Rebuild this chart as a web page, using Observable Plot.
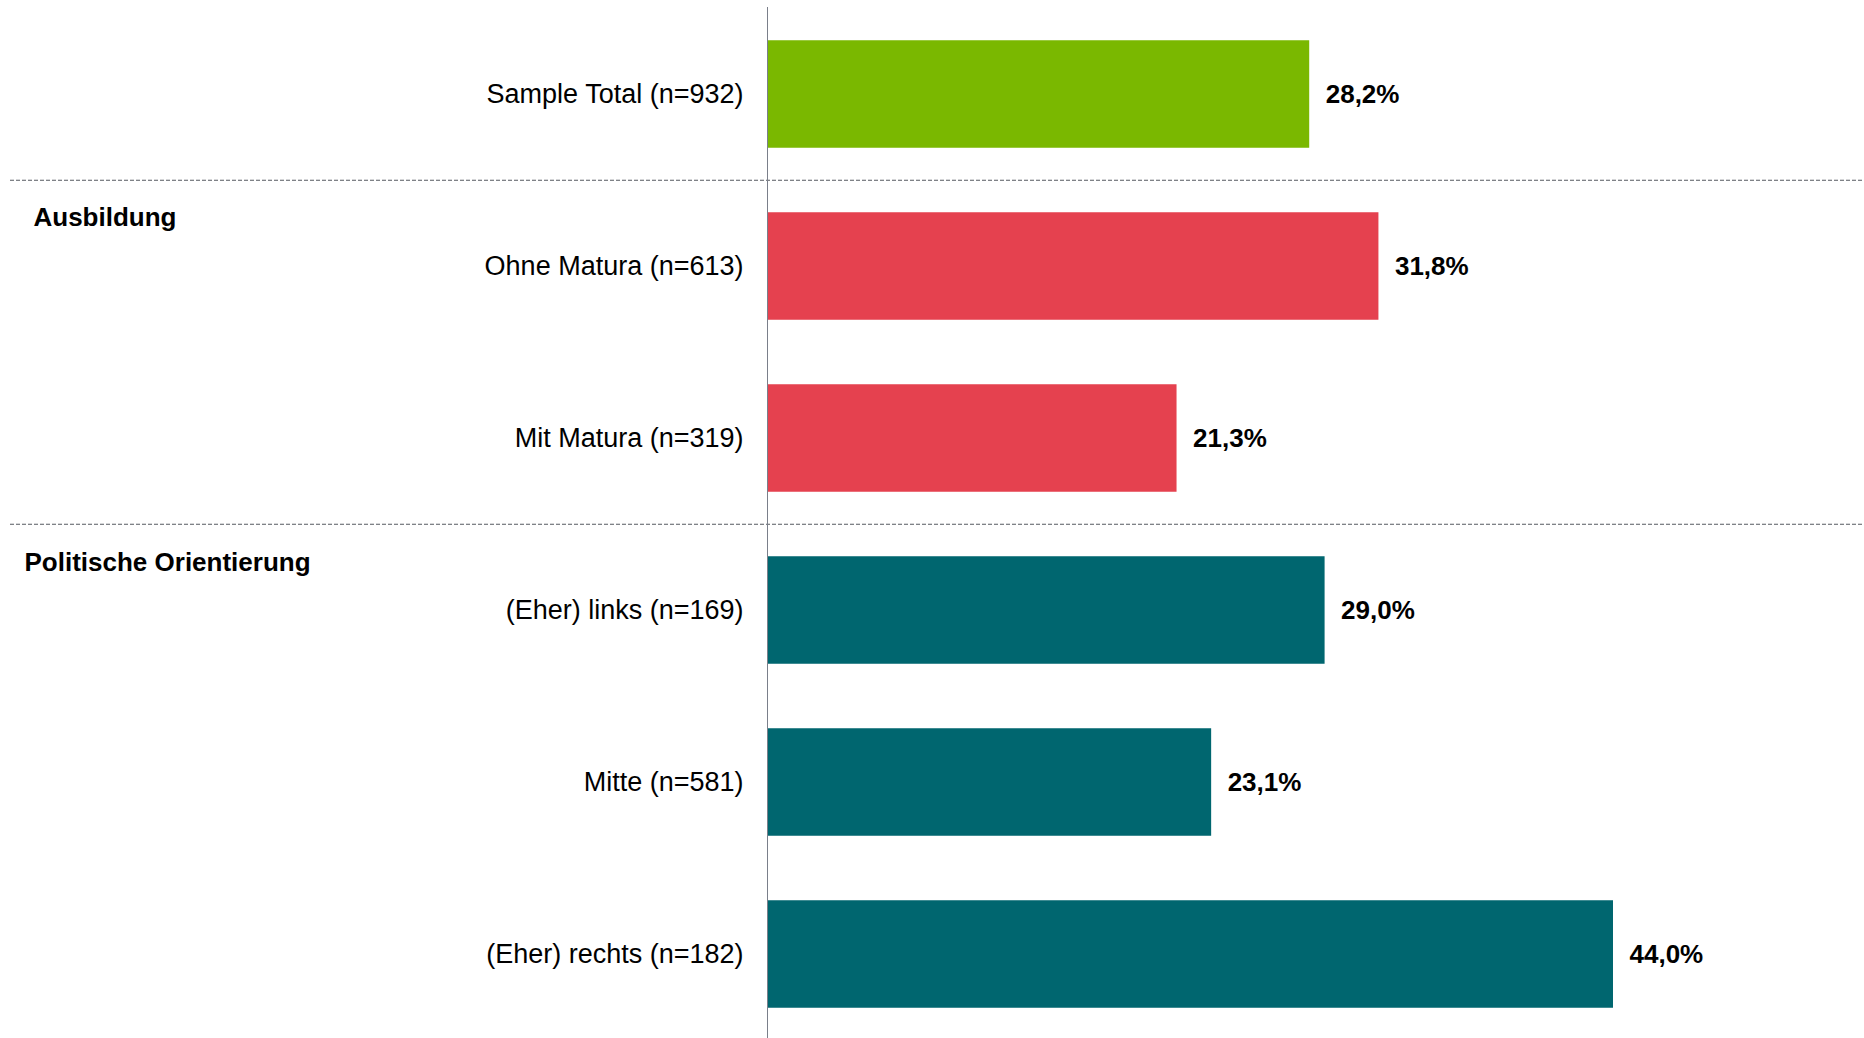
<!DOCTYPE html>
<html>
<head>
<meta charset="utf-8">
<script src="https://cdn.jsdelivr.net/npm/d3@7"></script>
<script src="https://cdn.jsdelivr.net/npm/@observablehq/plot@0.6"></script>
<style>
  html, body { margin: 0; padding: 0; background: #fff; }
  #chart svg { display: block; }
</style>
</head>
<body>
<div id="chart"></div>
<script>
const categories = [
  "Sample Total (n=932)",
  "Ohne Matura (n=613)",
  "Mit Matura (n=319)",
  "(Eher) links (n=169)",
  "Mitte (n=581)",
  "(Eher) rechts (n=182)"
];
const values = [28.2, 31.8, 21.3, 29.0, 23.1, 44.0];
const groups = ["Total", "Ausbildung", "Ausbildung", "Politik", "Politik", "Politik"];
const groupColors = { Total: "#7AB800", Ausbildung: "#E5414F", Politik: "#00666F" };

const headers = ["Ausbildung", "Politische Orientierung"];
const headerBefore = ["Ohne Matura (n=613)", "(Eher) links (n=169)"];
const separatorsBefore = ["Ohne Matura (n=613)", "(Eher) links (n=169)"];

const data = categories.map((c, i) => ({ cat: c, value: values[i], group: groups[i] }));
const headerData = headers.map((h, i) => ({ label: h, cat: headerBefore[i] }));
const fmt = v => v.toFixed(1).replace(".", ",") + "%";

const font = "'Liberation Sans', Arial, sans-serif";
const step = 172.5;

const chart = Plot.plot({
  width: 1864,
  height: 1038,
  marginLeft: 10,
  marginRight: 0,
  marginTop: 7,
  marginBottom: 0,
  style: { fontFamily: font, fontSize: "26px", background: "#fff", color: "#000" },
  x: { domain: [0, 44], range: [767, 1613], axis: null },
  y: { domain: categories, range: [6.75, 6.75 + step * categories.length], padding: 0, axis: null },
  marks: [
    Plot.barX(data, {
      y: "cat", x: "value",
      fill: d => groupColors[d.group],
      insetTop: 32.25, insetBottom: 32.25
    }),
    Plot.ruleY(separatorsBefore, {
      y: d => d, dy: -step / 2,
      stroke: "#555a60", strokeWidth: 1, strokeDasharray: "4,2"
    }),
    Plot.ruleX([0], { stroke: "#7a7f8a", strokeWidth: 1 }),
    Plot.text(data, {
      y: "cat", x: 0, text: "cat",
      textAnchor: "end", dx: -24,
      fill: "#000", fontSize: 27, fontFamily: font
    }),
    Plot.text(data, {
      y: "cat", x: "value", text: d => fmt(d.value),
      textAnchor: "start", dx: 16,
      fill: "#000", fontSize: 26, fontWeight: "bold", fontFamily: font
    }),
    Plot.text(headerData.slice(0, 1), {
      y: "cat", frameAnchor: "left", text: "label",
      textAnchor: "start", dx: 23, dy: -49,
      fill: "#000", fontSize: 26, fontWeight: "bold", fontFamily: font
    }),
    Plot.text(headerData.slice(1), {
      y: "cat", frameAnchor: "left", text: "label",
      textAnchor: "start", dx: 14, dy: -48,
      fill: "#000", fontSize: 26, fontWeight: "bold", fontFamily: font
    })
  ]
});
document.getElementById("chart").appendChild(chart);
</script>
</body>
</html>
